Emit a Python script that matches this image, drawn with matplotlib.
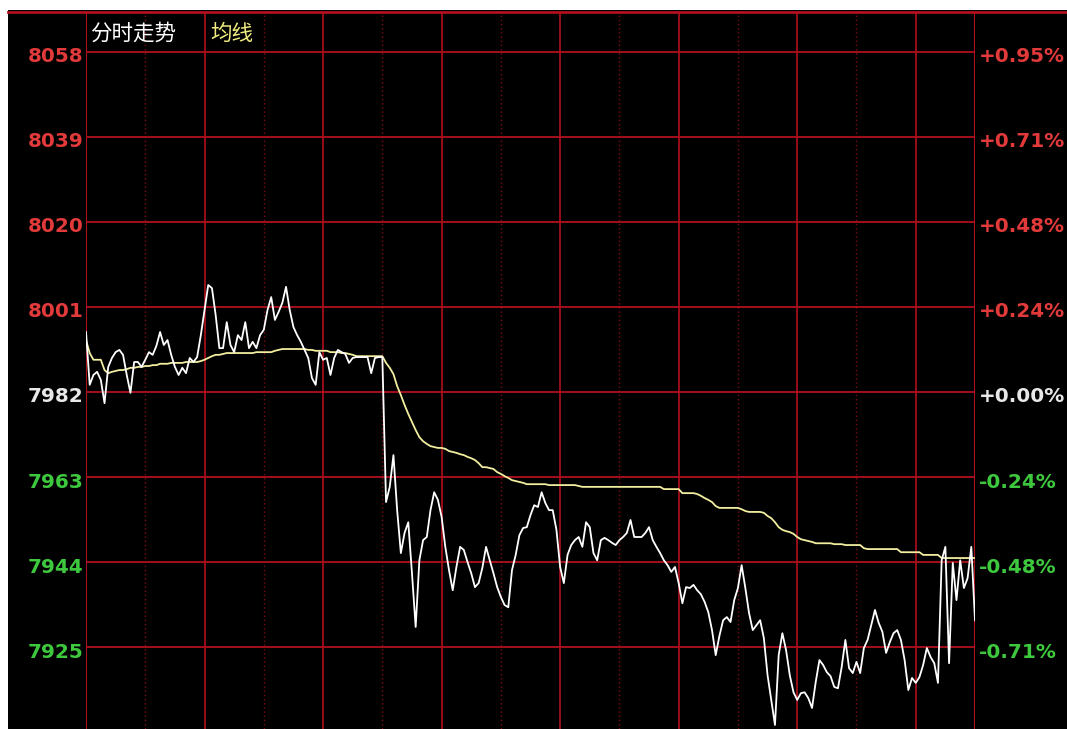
import matplotlib
matplotlib.use('Agg')
import matplotlib.pyplot as plt
import matplotlib.transforms as mtransforms
from matplotlib.patches import Rectangle

# intraday index, one value per minute
prev_close = 7982
price = [
    7995.4, 7983.6, 7985.8, 7986.5, 7984.7, 7979.5, 7987.6, 7989.6, 7990.9, 7991.4,
    7990.3, 7985.8, 7981.8, 7988.7, 7988.7, 7987.6, 7989.2, 7990.9, 7990.3, 7992.3,
    7995.4, 7992.5, 7993.6, 7990.3, 7987.6, 7985.8, 7987.4, 7986.2, 7989.6, 7988.7,
    7989.8, 7994.7, 8000.3, 8005.9, 8005.2, 7999.2, 7991.8, 7991.8, 7997.6, 7992.5,
    7990.9, 7994.7, 7993.6, 7997.6, 7991.8, 7993.2, 7991.8, 7994.7, 7995.9, 8000.3,
    8003.2, 7998.1, 7999.9, 8001.9, 8005.5, 8000.3, 7996.5, 7994.7, 7993.2, 7991.4,
    7989.6, 7985.1, 7983.6, 7990.9, 7989.2, 7989.6, 7985.8, 7989.6, 7991.4, 7990.9,
    7990.5, 7988.5, 7989.6, 7989.8, 7989.8, 7989.8, 7989.8, 7986.2, 7989.6, 7989.8,
    7989.8, 7957.4, 7960.8, 7967.9, 7955.6, 7946.0, 7950.5, 7952.9, 7941.5, 7929.5,
    7944.4, 7948.9, 7949.6, 7955.6, 7959.6, 7957.9, 7954.1, 7947.4, 7942.2, 7937.7,
    7942.9, 7947.4, 7946.7, 7944.0, 7941.5, 7938.4, 7939.3, 7942.7, 7947.4, 7944.4,
    7941.5, 7938.4, 7936.2, 7934.4, 7933.9, 7942.2, 7945.6, 7950.0, 7951.6, 7951.8,
    7954.5, 7956.7, 7956.3, 7959.6, 7957.2, 7955.6, 7955.6, 7951.2, 7942.9, 7939.3,
    7945.6, 7947.8, 7948.9, 7949.6, 7947.4, 7952.9, 7951.8, 7946.0, 7944.4, 7948.9,
    7949.4, 7948.9, 7948.3, 7947.8, 7948.9, 7949.6, 7950.5, 7953.4, 7949.6, 7949.6,
    7949.6, 7950.5, 7951.8, 7948.9, 7947.4, 7946.0, 7944.4, 7943.3, 7941.8, 7942.9,
    7939.3, 7934.8, 7938.4, 7938.2, 7938.9, 7937.7, 7936.8, 7935.1, 7932.8, 7928.8,
    7923.2, 7927.5, 7931.0, 7931.7, 7930.6, 7935.5, 7938.2, 7943.3, 7938.2, 7932.6,
    7928.8, 7929.9, 7931.0, 7927.0, 7918.7, 7913.2, 7907.6, 7923.2, 7928.1, 7924.3,
    7918.7, 7914.9, 7913.2, 7914.7, 7914.9, 7913.6, 7911.4, 7917.2, 7922.1, 7921.0,
    7919.4, 7918.5, 7916.1, 7915.8, 7920.5, 7926.6, 7920.3, 7919.2, 7921.7, 7919.2,
    7924.8, 7926.6, 7929.9, 7933.3, 7930.4, 7928.4, 7923.7, 7926.1, 7928.1, 7928.8,
    7926.6, 7922.1, 7915.4, 7918.1, 7917.0, 7918.3, 7921.0, 7924.8, 7922.8, 7921.4,
    7917.0, 7944.4, 7947.4, 7921.4, 7943.8, 7935.5, 7944.4, 7938.2, 7940.4, 7947.4,
    7931.0,
]
avg_price = [
    7993.6, 7990.7, 7989.2, 7989.2, 7989.2, 7986.9, 7986.2, 7986.5, 7986.7, 7986.9,
    7986.9, 7987.1, 7987.4, 7987.4, 7987.6, 7987.6, 7987.8, 7987.8, 7988.0, 7988.0,
    7988.3, 7988.3, 7988.3, 7988.5, 7988.5, 7988.5, 7988.5, 7988.7, 7988.7, 7988.7,
    7988.7, 7988.9, 7989.2, 7989.6, 7990.0, 7990.3, 7990.3, 7990.5, 7990.7, 7990.7,
    7990.7, 7990.7, 7990.7, 7990.7, 7990.7, 7990.7, 7990.9, 7990.9, 7990.9, 7990.9,
    7990.9, 7991.2, 7991.4, 7991.6, 7991.6, 7991.6, 7991.6, 7991.6, 7991.6, 7991.6,
    7991.4, 7991.4, 7991.2, 7991.2, 7991.2, 7991.2, 7990.9, 7990.9, 7990.9, 7990.7,
    7990.7, 7990.5, 7990.3, 7990.0, 7990.0, 7990.0, 7990.0, 7990.0, 7990.0, 7990.0,
    7990.0, 7988.5, 7987.4, 7986.0, 7983.3, 7981.3, 7979.1, 7977.1, 7975.3, 7973.5,
    7971.9, 7971.0, 7970.4, 7969.9, 7969.7, 7969.5, 7969.5, 7969.3, 7968.8, 7968.6,
    7968.4, 7968.1, 7967.9, 7967.5, 7967.2, 7966.8, 7966.1, 7965.2, 7965.2, 7965.0,
    7964.8, 7964.1, 7963.7, 7963.2, 7962.8, 7962.3, 7962.1, 7961.9, 7961.7, 7961.4,
    7961.4, 7961.4, 7961.4, 7961.4, 7961.4, 7961.2, 7961.2, 7961.2, 7961.2, 7961.2,
    7961.2, 7961.2, 7961.2, 7961.0, 7960.8, 7960.8, 7960.8, 7960.8, 7960.8, 7960.8,
    7960.8, 7960.8, 7960.8, 7960.8, 7960.8, 7960.8, 7960.8, 7960.8, 7960.8, 7960.8,
    7960.8, 7960.8, 7960.8, 7960.8, 7960.8, 7960.8, 7960.3, 7960.3, 7960.3, 7960.3,
    7960.3, 7959.4, 7959.4, 7959.4, 7959.4, 7959.2, 7958.8, 7958.3, 7957.9, 7957.4,
    7956.5, 7956.1, 7956.1, 7956.1, 7956.1, 7956.1, 7956.1, 7955.8, 7955.4, 7955.2,
    7955.2, 7955.2, 7955.2, 7955.0, 7954.3, 7953.8, 7952.9, 7951.8, 7951.2, 7950.9,
    7950.7, 7950.3, 7949.6, 7949.1, 7948.9, 7948.7, 7948.5, 7948.2, 7948.2, 7948.2,
    7948.2, 7948.2, 7948.0, 7948.0, 7948.0, 7947.8, 7947.8, 7947.8, 7947.8, 7947.8,
    7947.1, 7946.9, 7946.9, 7946.9, 7946.9, 7946.9, 7946.9, 7946.9, 7946.9, 7946.9,
    7946.2, 7946.2, 7946.2, 7946.2, 7946.2, 7946.2, 7945.6, 7945.6, 7945.6, 7945.6,
    7945.6, 7944.9, 7944.9, 7944.9, 7944.9, 7944.9, 7944.9, 7944.9, 7944.9, 7944.9,
    7944.9,
]
minutes = list(range(len(price)))

left_ticks = [8058, 8039, 8020, 8001, 7982, 7963, 7944, 7925]
right_labels = ['+0.95%', '+0.71%', '+0.48%', '+0.24%', '+0.00%', '-0.24%', '-0.48%', '-0.71%']
major_x = [32, 64, 96, 128, 160, 192, 224]
minor_x = [16, 48, 80, 112, 144, 176, 208]

RED = '#e23a3a'
GREEN = '#3ec83e'
WHITE = '#e8e8e8'
GRID = '#b0101e'

fig = plt.figure(figsize=(10.67, 7.29), dpi=100, facecolor='white')
# black screen area (screenshot has a thin white border top/left)
fig.patches.append(Rectangle((8 / 1067, 0), 1 - 8 / 1067, 719 / 729,
                             transform=fig.transFigure, facecolor='black',
                             edgecolor='none', zorder=-10))

ax = fig.add_axes([86 / 1067, 0, 889 / 1067, 717 / 729])
ax.set_zorder(5)
ax.set_facecolor('black')
ax.set_xlim(0, 240)
ax.set_ylim(7906.7, 8066.9)

for v in minor_x:
    ax.axvline(v, color='#800a16', lw=1.0, ls=(0, (1, 2)), zorder=1)
for v in major_x:
    ax.axvline(v, color=GRID, lw=1.2, zorder=1)
for v in left_ticks:
    ax.axhline(v, color=GRID, lw=1.3, zorder=1)

ax.plot(minutes, avg_price, color='#f2eea0', lw=1.3, zorder=3)
ax.plot(minutes, price, color='white', lw=1.3, zorder=4)

for s in ax.spines.values():
    s.set_visible(False)
ax.axvline(0, color=GRID, lw=1.5, zorder=2)
ax.axvline(240, color=GRID, lw=1.5, zorder=2)
ax.set_xticks([])
ax.set_yticks([])

# top border line across the whole screen
ax.plot([-78 / 889, 981 / 889], [1, 1], transform=ax.transAxes, color=GRID,
        lw=2.0, clip_on=False, zorder=2)

tr = mtransforms.blended_transform_factory(ax.transAxes, ax.transData)
tr = mtransforms.offset_copy(tr, fig=fig, y=-5, units='dots')
for v, lab in zip(left_ticks, right_labels):
    if v > prev_close:
        c = RED
    elif v < prev_close:
        c = GREEN
    else:
        c = WHITE
    ax.text(-0.003, v, str(v), transform=tr, ha='right', va='center',
            color=c, fontsize=14.4, fontweight='bold', family='DejaVu Sans',
            clip_on=False)
    ax.text(1.004, v, lab, transform=tr, ha='left', va='center',
            color=c, fontsize=14.4, fontweight='bold', family='DejaVu Sans',
            clip_on=False)

ax.text(0.005, 0.9693, '分时走势', transform=ax.transAxes, ha='left', va='center',
        color='white', fontsize=15.5, family=['Noto Sans CJK SC', 'DejaVu Sans'])
ax.text(0.1395, 0.9693, '均线', transform=ax.transAxes, ha='left', va='center',
        color='#f0ec80', fontsize=15.5, family=['Noto Sans CJK SC', 'DejaVu Sans'])

fig.savefig('out.png', dpi=100, facecolor=fig.get_facecolor())
